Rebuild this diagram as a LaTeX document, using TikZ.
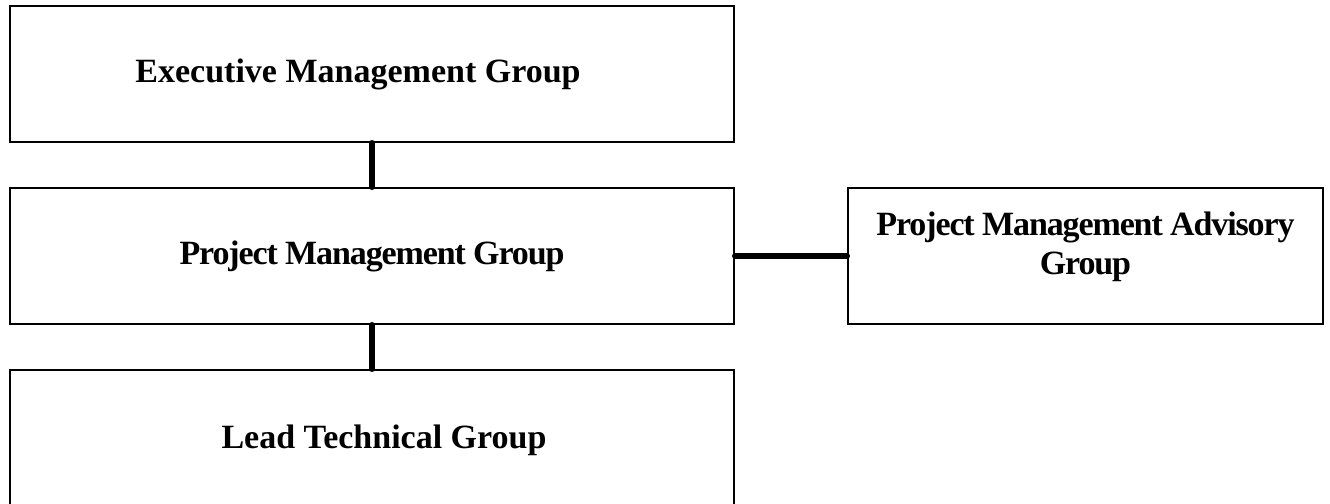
\documentclass[tikz,border=0pt]{standalone}
\usepackage{fontspec}
\setmainfont{Liberation Serif}
\usetikzlibrary{positioning}

\begin{document}
\begin{tikzpicture}[x=0.5pt,y=-0.5pt,node distance=22pt and 56pt]
				\tikzstyle{group}=[draw,line width=1pt,rectangle,align=center,
				minimum width=362pt,minimum height=68pt,inner sep=0pt,
				font=\fontsize{17}{19.5}\selectfont\bfseries]
				\tikzstyle{tight}=[font=\fontsize{17}{19.5}\selectfont\bfseries\addfontfeature{LetterSpace=-3.3}]
				\tikzstyle{link}=[line width=3pt,line cap=round]
				\useasboundingbox (0,0) rectangle (1330,504);
				\node[group] (exec) at (372,74) {\hspace*{-14pt}Executive Management Group};
				\node[group,tight,below=of exec] (pmg) {Project Management Group};
				\node[group,below=of pmg,minimum height=70pt] (lead) {Lead Technical Group\hspace*{-12pt}};
				\node[group,tight,right=of pmg,minimum width=237.5pt] (adv)
					{\raisebox{0pt}[\height][\dimexpr\depth+9pt\relax]{\begin{tabular}{@{}c@{}}Project Management Advisory\\Group\end{tabular}}};
				\draw[link] (exec) -- (pmg);
				\draw[link] (pmg) -- (lead);
				\draw[link] (pmg) -- (adv);
\end{tikzpicture}
\end{document}
